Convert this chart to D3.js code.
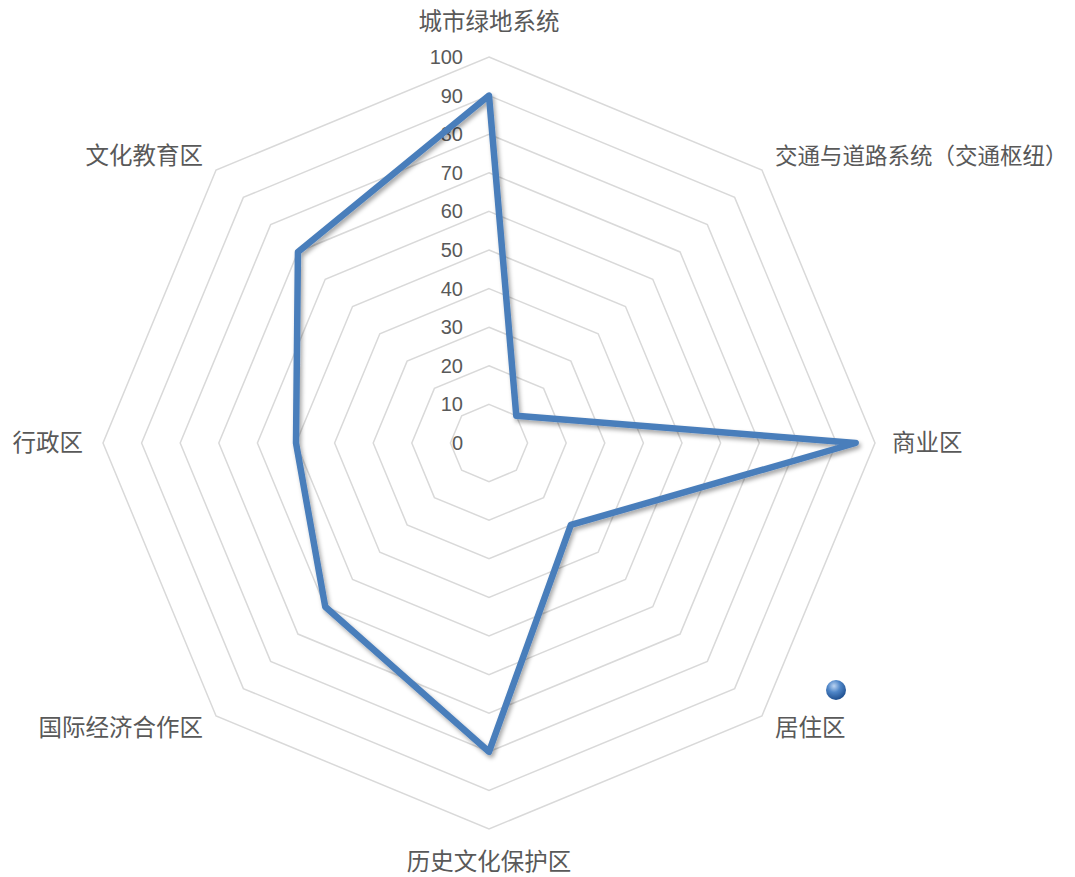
<!DOCTYPE html>
<html>
  <head>
    <meta charset="utf-8">
    <title>Radar</title>
    <script src="https://cdn.jsdelivr.net/npm/d3@7"></script>
    <style>
      body { margin: 0; background: #fff; }
      text { fill: #595959; }
    </style>
  </head>
  <body>
    <svg id="container" width="1075" height="877"></svg>
    <script>
      const categories = ["城市绿地系统", "交通与道路系统（交通枢纽）", "商业区", "居住区",
                          "历史文化保护区", "国际经济合作区", "行政区", "文化教育区"];
      const values = [90, 10, 95, 30, 80, 60, 50, 70];
      const ticks = [0, 10, 20, 30, 40, 50, 60, 70, 80, 90, 100];

      const svg = d3.select("#container");
      const cx = 489, cy = 443;

      const r = d3.scaleLinear().domain([0, 100]).range([0, 386]);
      const angle = d3.scaleLinear().domain([0, categories.length]).range([0, 2 * Math.PI]);

      // shadow for the series line
      const defs = svg.append("defs");
      defs.append("filter").attr("id", "shadow")
        .attr("x", "-10%").attr("y", "-10%").attr("width", "120%").attr("height", "120%")
        .append("feDropShadow")
        .attr("dx", 2).attr("dy", 3).attr("stdDeviation", 2)
        .attr("flood-color", "#000").attr("flood-opacity", 0.35);
      const grad = defs.append("radialGradient").attr("id", "ball")
        .attr("cx", "40%").attr("cy", "30%").attr("r", "70%");
      grad.append("stop").attr("offset", "0%").attr("stop-color", "#bcd4f2");
      grad.append("stop").attr("offset", "45%").attr("stop-color", "#4f86c8");
      grad.append("stop").attr("offset", "100%").attr("stop-color", "#1f4f8f");

      const chart = svg.append("g").attr("transform", `translate(${cx},${cy})`);

      const point = (i, v) => [Math.sin(angle(i)) * r(v), -Math.cos(angle(i)) * r(v)];

      // grid rings
      const ring = d3.line().curve(d3.curveLinearClosed);
      chart.selectAll(".ring")
        .data(ticks.filter(t => t > 0))
        .join("path")
        .attr("class", "ring")
        .attr("d", t => ring(categories.map((c, i) => point(i, t))))
        .attr("fill", "none")
        .attr("stroke", "#d9d9d9")
        .attr("stroke-width", 1.5);

      // tick labels
      chart.selectAll(".tick")
        .data(ticks)
        .join("text")
        .attr("class", "tick")
        .attr("x", -26)
        .attr("y", t => -r(t))
        .attr("dy", "0.35em")
        .attr("text-anchor", "end")
        .style("font-family", "'Liberation Sans', Arial, sans-serif")
        .style("font-size", "20px")
        .text(t => t);

      // category labels
      chart.selectAll(".cat")
        .data(categories)
        .join("text")
        .attr("class", "cat")
        .each(function(c, i) {
          const s = Math.sin(angle(i)), k = -Math.cos(angle(i));
          const [px, py] = point(i, 100);
          let x = px, y = py, anchor = "middle";
          if (Math.abs(s) < 0.01) {
            y = py + (k < 0 ? -35 : 33);
          } else if (Math.abs(k) < 0.01) {
            x = px + (s > 0 ? 17 : -20);
            anchor = s > 0 ? "start" : "end";
          } else {
            x = px + (s > 0 ? 13 : -13);
            y = py + (k < 0 ? -14 : 12);
            anchor = s > 0 ? "start" : "end";
          }
          d3.select(this)
            .attr("x", x).attr("y", y)
            .attr("dy", "0.35em")
            .attr("text-anchor", anchor);
        })
        .style("font-family", "'Noto Sans CJK SC', sans-serif")
        .style("font-size", c => c.length > 10 ? "22.5px" : "23.5px")
        .text(c => c);

      // series line
      chart.append("path")
        .attr("d", ring(values.map((v, i) => point(i, v))))
        .attr("fill", "none")
        .attr("stroke", "#4a7ebb")
        .attr("stroke-width", 6.5)
        .attr("stroke-linejoin", "round")
        .attr("filter", "url(#shadow)");

      // legend marker (series without name)
      svg.append("circle")
        .attr("cx", 836).attr("cy", 690).attr("r", 10)
        .attr("fill", "url(#ball)");
    </script>
  </body>
</html>
